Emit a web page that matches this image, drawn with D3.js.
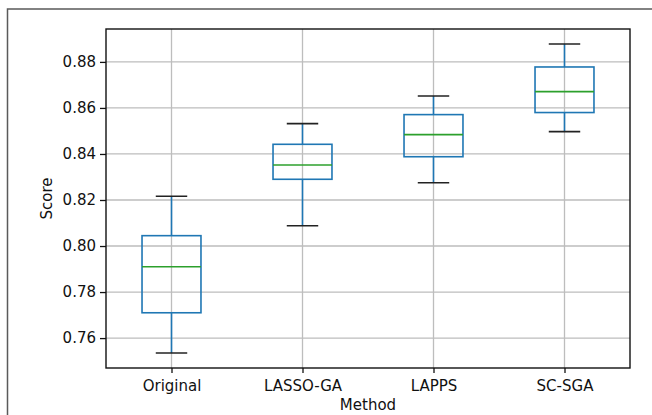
<!DOCTYPE html>
<html>
<head>
<meta charset="utf-8">
<script src="https://cdn.jsdelivr.net/npm/d3@7"></script>
<style>
  body { margin: 0; background: #fff; }
  text { font-family: "DejaVu Sans", sans-serif; fill: #111; }
</style>
</head>
<body>
<div id="chart"></div>
<script>
// box plot data
var methods = ['Original', 'LASSO-GA', 'LAPPS', 'SC-SGA'];
var whiskerLow  = [0.7535, 0.8088, 0.8275, 0.8497];
var q1          = [0.7710, 0.8290, 0.8388, 0.8580];
var medians     = [0.7910, 0.8352, 0.8484, 0.8671];
var q3          = [0.8045, 0.8442, 0.8571, 0.8778];
var whiskerHigh = [0.8216, 0.8532, 0.8652, 0.8878];
var yTicks = [0.76, 0.78, 0.80, 0.82, 0.84, 0.86, 0.88];

var width = 652, height = 415;
var margin = {top: 29, right: 22, bottom: 47, left: 106};
var innerW = width - margin.left - margin.right,
    innerH = height - margin.top - margin.bottom;

var svg = d3.select('#chart').append('svg')
  .attr('width', width).attr('height', height);

// outer frame of the figure (only top and left edges show)
svg.append('path').attr('d', 'M7.5,' + height + 'V9H' + width)
  .attr('fill', 'none').attr('stroke', '#5a5a5a').attr('stroke-width', 1.5);

var g = svg.append('g').attr('transform', 'translate(' + margin.left + ',' + margin.top + ')');

var x = d3.scaleLinear().domain([0.5, 4.5]).range([0, innerW]);
var y = d3.scaleLinear().domain([0.7470, 0.8943]).range([innerH, 0]);
var step = x(2) - x(1);
var boxW = step * 0.45, capW = step * 0.24;

// grid
g.append('g').selectAll('line').data(yTicks).enter().append('line')
  .attr('x1', 0).attr('x2', innerW)
  .attr('y1', function (d) { return y(d); }).attr('y2', function (d) { return y(d); })
  .attr('stroke', '#bdbdbd').attr('stroke-width', 1.3);
g.append('g').selectAll('line').data(methods).enter().append('line')
  .attr('x1', function (d, i) { return x(i + 1); }).attr('x2', function (d, i) { return x(i + 1); })
  .attr('y1', 0).attr('y2', innerH)
  .attr('stroke', '#bdbdbd').attr('stroke-width', 1.3);

// boxes
var boxes = g.selectAll('.box').data(methods).enter().append('g').attr('class', 'box');
boxes.append('line') // lower whisker
  .attr('x1', function (d, i) { return x(i + 1); }).attr('x2', function (d, i) { return x(i + 1); })
  .attr('y1', function (d, i) { return y(whiskerLow[i]); }).attr('y2', function (d, i) { return y(q1[i]); })
  .attr('stroke', '#1f77b4').attr('stroke-width', 1.6);
boxes.append('line') // upper whisker
  .attr('x1', function (d, i) { return x(i + 1); }).attr('x2', function (d, i) { return x(i + 1); })
  .attr('y1', function (d, i) { return y(q3[i]); }).attr('y2', function (d, i) { return y(whiskerHigh[i]); })
  .attr('stroke', '#1f77b4').attr('stroke-width', 1.6);
boxes.append('rect')
  .attr('x', function (d, i) { return x(i + 1) - boxW / 2; })
  .attr('y', function (d, i) { return y(q3[i]); })
  .attr('width', boxW)
  .attr('height', function (d, i) { return y(q1[i]) - y(q3[i]); })
  .attr('fill', 'none').attr('stroke', '#1f77b4').attr('stroke-width', 1.6);
boxes.append('line') // median
  .attr('x1', function (d, i) { return x(i + 1) - boxW / 2; }).attr('x2', function (d, i) { return x(i + 1) + boxW / 2; })
  .attr('y1', function (d, i) { return y(medians[i]); }).attr('y2', function (d, i) { return y(medians[i]); })
  .attr('stroke', '#2ca02c').attr('stroke-width', 1.6);
[whiskerLow, whiskerHigh].forEach(function (arr) {
  boxes.append('line') // caps
    .attr('x1', function (d, i) { return x(i + 1) - capW / 2; }).attr('x2', function (d, i) { return x(i + 1) + capW / 2; })
    .attr('y1', function (d, i) { return y(arr[i]); }).attr('y2', function (d, i) { return y(arr[i]); })
    .attr('stroke', '#222').attr('stroke-width', 1.6);
});

// axes
var yAxis = d3.axisLeft(y).tickValues(yTicks).tickFormat(d3.format('.2f')).tickSize(6).tickPadding(4);
var yg = g.append('g').call(yAxis);
var xAxis = d3.axisBottom(x).tickValues([1, 2, 3, 4]).tickFormat(function (d) { return methods[d - 1]; })
  .tickSize(5).tickPadding(7);
var xg = g.append('g').attr('transform', 'translate(0,' + innerH + ')').call(xAxis);
[yg, xg].forEach(function (a) {
  a.select('.domain').remove();
  a.selectAll('.tick line').attr('stroke', '#111').attr('stroke-width', 1.3);
  a.selectAll('.tick text').style('font-size', '15px').style('font-family', '"DejaVu Sans", sans-serif').attr('fill', '#111');
});

// spines
g.append('rect').attr('width', innerW).attr('height', innerH)
  .attr('fill', 'none').attr('stroke', '#111').attr('stroke-width', 1.4);

// axis titles
svg.append('text').attr('x', margin.left + innerW / 2).attr('y', 410)
  .attr('text-anchor', 'middle').style('font-size', '15px').text('Method');
svg.append('text').attr('transform', 'translate(52,' + (margin.top + innerH / 2) + ') rotate(-90)')
  .attr('text-anchor', 'middle').style('font-size', '15px').text('Score');
</script>
</body>
</html>
